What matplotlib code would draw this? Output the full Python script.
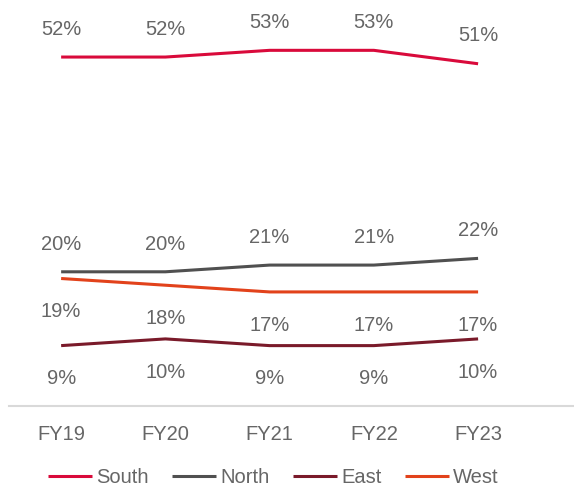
import matplotlib.pyplot as plt

years = ["FY19", "FY20", "FY21", "FY22", "FY23"]
south = [52, 52, 53, 53, 51]
north = [20, 20, 21, 21, 22]
east = [9, 10, 9, 9, 10]
west = [19, 18, 17, 17, 17]

plt.rcParams['font.family'] = ['Liberation Sans', 'DejaVu Sans']
text_color = '#666666'

fig = plt.figure(figsize=(5.74, 4.90), dpi=100)
ax = fig.add_axes([0.0157, 0.1714, 0.9843, 0.8286])

x = list(range(len(years)))
series = [
    ("South", south, '#d90a3b', 'above'),
    ("North", north, '#505050', 'above'),
    ("East", east, '#7a1a2a', 'below'),
    ("West", west, '#e2421b', 'below'),
]

for name, vals, color, pos in series:
    ax.plot(x, vals, color=color, lw=2.2, label=name, solid_capstyle='butt')
    for xi, v in zip(x, vals):
        dy = 20 if pos == 'above' else -24
        ax.annotate(f"{v:.0f}%", (xi, v), xytext=(0, dy), textcoords='offset points',
                    ha='center', va='center', fontsize=14.5, color=text_color)

ax.set_xlim(-0.5, 4.92)
ax.set_ylim(0, 60.5)
ax.set_xticks(x)
ax.set_xticklabels(years)
ax.tick_params(axis='x', length=0, pad=14, labelsize=14.5, labelcolor=text_color)
ax.set_yticks([])
for s in ['top', 'right', 'left']:
    ax.spines[s].set_visible(False)
ax.spines['bottom'].set_color('#d9d9d9')
ax.spines['bottom'].set_linewidth(1.5)

ax.legend(loc='lower center', bbox_to_anchor=(0.468, -0.245), ncol=4, frameon=False,
          fontsize=14.5, handlelength=2.2, handletextpad=0.2, columnspacing=1.15,
          labelcolor=text_color)

fig.savefig("out.png", dpi=100)
